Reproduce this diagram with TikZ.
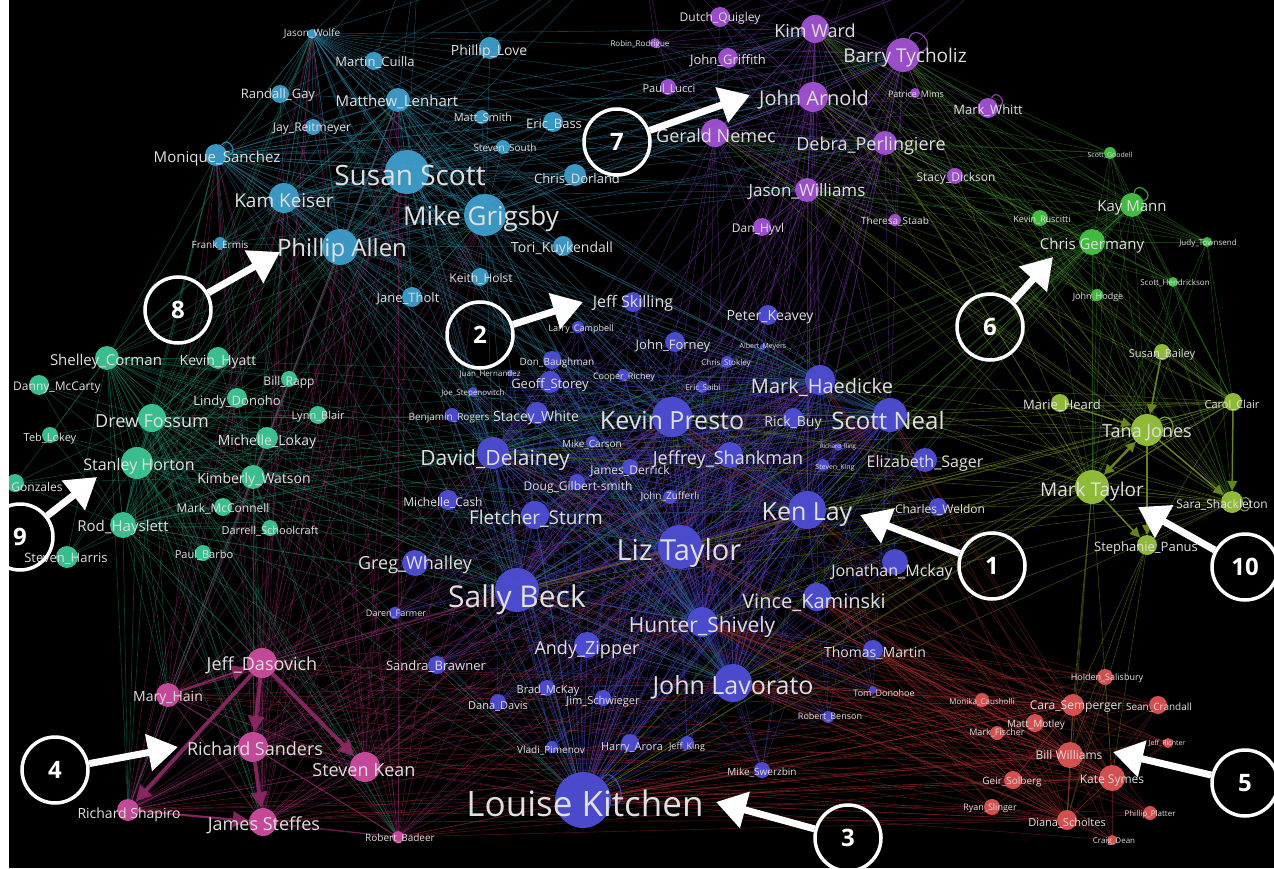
\documentclass[tikz,border=0pt]{standalone}
\usepackage{fontspec}
\setmainfont{Open Sans}
\usetikzlibrary{arrows.meta}
\pgfdeclarelayer{bgl}
\pgfdeclarelayer{edges}
\pgfdeclarelayer{top}
\pgfsetlayers{bgl,edges,main,top}
\definecolor{cC}{RGB}{62,158,204}
\definecolor{cP}{RGB}{163,82,212}
\definecolor{cB}{RGB}{78,78,214}
\definecolor{cT}{RGB}{62,200,150}
\definecolor{cG}{RGB}{68,196,68}
\definecolor{cY}{RGB}{150,196,60}
\definecolor{cK}{RGB}{206,76,160}
\definecolor{cR}{RGB}{222,84,84}
\definecolor{eC}{RGB}{40,120,150}
\definecolor{eP}{RGB}{110,50,160}
\definecolor{eB}{RGB}{60,60,175}
\definecolor{eT}{RGB}{30,130,100}
\definecolor{eG}{RGB}{50,130,40}
\definecolor{eY}{RGB}{110,140,30}
\definecolor{eK}{RGB}{140,40,100}
\definecolor{eR}{RGB}{150,40,40}
\tikzset{
  gdot/.style={circle, inner sep=0pt, draw=none, fill opacity=0.95},
  glab/.style={inner sep=0pt, text=white!88!black},
  ed/.style={line width=0.6pt, opacity=0.5},
  eCs/.style={ed, draw=eC}, ePs/.style={ed, draw=eP}, eBs/.style={ed, draw=eB},
  eTs/.style={ed, draw=eT}, eGs/.style={ed, draw=eG}, eYs/.style={ed, draw=eY},
  eKs/.style={ed, draw=eK}, eRs/.style={ed, draw=eR},
  annc/.style={circle, draw=white, line width=3.5pt, minimum size=66pt, inner sep=0pt,
    text=white, font=\fontsize{24}{24}\selectfont\bfseries},
  annar/.style={draw=white, line width=7pt, -{Triangle[length=30pt,width=36pt]}},
  thkK/.style={draw=eK, opacity=0.9, line width=4pt, -{Triangle[length=16pt,width=16pt]}},
  thkY/.style={draw=eY, opacity=0.9, line width=2.5pt, -{Triangle[length=10pt,width=10pt]}},
  loopy/.style={line width=1.2pt, opacity=0.8}
}
\def\ndata{%
jw/312/34/5/cC/10/312/34/Jason\_Wolfe,
mcu/374/61/9/cC/13/375/63/Martin\_Cuilla,
rg/280/94/9/cC/13/278/95/Randall\_Gay,
ml/398/100/12/cC/15/397/102/Matthew\_Lenhart,
jr/313/127/8/cC/12/312/129/Jay\_Reitmeyer,
ms/216/155/11/cC/15/217/159/Monique\_Sanchez,
ss/407/172/22/cC/28/410/175/Susan Scott,
kk/284/198/15/cC/19/284/201/Kam Keiser,
mg/485/215/21/cC/26/481/219/Mike Grigsby,
pa/340/247/18/cC/24/342/250/Phillip Allen,
fe/220/243/6/cC/10/220/245/Frank\_Ermis,
pl/490/48/11/cC/14/489/52/Phillip\_Love,
mts/482/117/7/cC/11/483/118/Matt\_Smith,
eb/553/122/10/cC/13/554/125/Eric\_Bass,
sso/503/147/7/cC/10/505/148/Steven\_South,
cd/575/175/11/cC/13/577/180/Chris\_Dorland,
tk/563/246/10/cC/14/562/249/Tori\_Kuykendall,
kh/480/277/9/cC/12/481/279/Keith\_Holst,
jt/412/297/10/cC/13/408/299/Jane\_Tholt,
dq/720/17/10/cP/12/720/18/Dutch\_Quigley,
kw/815/29/14/cP/18/815/31/Kim Ward,
rr/655/43/5/cP/8/640/44/Robin\_Rodrigue,
jg/728/58/10/cP/13/728/61/John\_Griffith,
bt/903/55/17/cP/19/905/58/Barry Tycholiz,
pcl/668/87/8/cP/11/669/89/Paul\_Lucci,
ja/813/97/15/cP/20/814/100/John Arnold,
pm/915/93/5/cP/9/916/95/Patrice\_Mims,
mw/988/108/10/cP/13/988/111/Mark\_Whitt,
gn/715/133/14/cP/18/716/136/Gerald Nemec,
dp/885/143/12/cP/18/871/146/Debra\_Perlingiere,
jwi/807/190/12/cP/17/807/192/Jason\_Williams,
sd/955/176/8/cP/12/956/178/Stacy\_Dickson,
dh/762/227/9/cP/12/758/229/Dan\_Hyvl,
ts/895/220/6/cP/10/895/221/Theresa\_Staab,
sgo/1110/153/6/cG/7/1110/155/Scott\_Goodell,
kym/1132/205/12/cG/15/1132/208/Kay Mann,
kr/1040/218/8/cG/9/1042/220/Kevin\_Ruscitti,
cg/1092/242/13/cG/15/1092/246/Chris Germany,
jto/1207/242/5/cG/8/1208/243/Judy\_Townsend,
sh2/1173/282/5/cG/8/1175/283/Scott\_Hendrickson,
jho/1097/295/6/cG/9/1098/297/John\_Hodge,
sba/1162/352/8/cY/11/1162/355/Susan\_Bailey,
mhe/1060/403/9/cY/13/1062/406/Marie\_Heard,
ccl/1233/402/9/cY/11/1232/405/Carol\_Clair,
tj/1147/430/16/cY/18/1147/433/Tana Jones,
mt/1092/487/17/cY/19/1092/492/Mark Taylor,
sas/1232/502/11/cY/12/1222/505/Sara\_Shackleton,
sp/1147/545/10/cY/13/1146/548/Stephanie\_Panus,
shc/107/358/12/cT/15/106/362/Shelley\_Corman,
kvh/218/358/11/cT/14/218/362/Kevin\_Hyatt,
dmc/39/385/10/cT/12/57/388/Danny\_McCarty,
brp/289/379/8/cT/12/289/382/Bill\_Rapp,
ldo/237/398/10/cT/13/237/402/Lindy\_Donoho,
df/152/418/14/cT/18/152/421/Drew Fossum,
tlo/50/435/8/cT/11/50/439/Teb\_Lokey,
lbl/318/415/9/cT/11/318/417/Lynn\_Blair,
mlo/267/438/11/cT/14/267/442/Michelle\_Lokay,
sho/137/463/16/cT/16/139/466/Stanley Horton,
kwa/253/477/12/cT/14/254/480/Kimberly\_Watson,
gon/15/483/9/cT/12/37/487/Gonzales,
mmc/223/507/9/cT/12/223/509/Mark\_McConnell,
rh/123/525/13/cT/15/123/528/Rod\_Hayslett,
dsc/270/528/8/cT/11/270/531/Darrell\_Schoolcraft,
sha/67/557/11/cT/13/66/559/Steven\_Harris,
pbo/203/553/8/cT/11/204/555/Paul\_Barbo,
jd/262/663/15/cK/18/262/665/Jeff\_Dasovich,
mh/168/695/12/cK/14/168/698/Mary\_Hain,
rs/253/747/15/cK/18/255/749/Richard Sanders,
sk/365/767/15/cK/18/364/770/Steven Kean,
rsh/128/810/11/cK/14/129/815/Richard Shapiro,
jst/263/822/14/cK/18/264/825/James Steffes,
rb/398/837/6/cK/10/400/838/Robert\_Badeer,
jsk/633/302/10/cB/16/633/303/Jeff Skilling,
lc/578/327/6/cB/9/581/329/Larry\_Campbell,
pk/768/315/10/cB/14/770/317/Peter\_Keavey,
jf/675/342/10/cB/13/673/346/John\_Forney,
ame/763/347/3/cB/7/763/347/Albert\_Meyers,
cst/727/362/6/cB/8/726/363/Chris\_Stokley,
db/552/360/9/cB/10/557/363/Don\_Baughman,
jhe/510/373/3/cB/8/490/374/Juan\_Hernandez,
cr/623/375/6/cB/9/624/377/Cooper\_Richey,
gs/550/382/11/cB/13/550/385/Geoff\_Storey,
jsp/473/392/5/cB/8/473/393/Joe\_Stepenovitch,
esa/702/387/6/cB/8/703/388/Eric\_Saibi,
mha/820/380/15/cB/20/822/387/Mark\_Haedicke,
bro/452/415/7/cB/10/449/418/Benjamin\_Rogers,
swh/537/413/11/cB/14/536/418/Stacey\_White,
kp/672/417/20/cB/25/672/420/Kevin Presto,
rbu/793/418/10/cB/14/793/423/Rick\_Buy,
sn/890/415/17/cB/24/888/420/Scott Neal,
rri/838/447/4/cB/6/838/447/Richard\_Ring,
mca/592/442/6/cB/10/592/444/Mike\_Carson,
dd/493/453/16/cB/21/495/460/David\_Delainey,
jsh/730/455/13/cB/18/728/460/Jeffrey\_Shankman,
ski/823/465/6/cB/7/835/468/Steven\_King,
esg/925/460/12/cB/16/925/463/Elizabeth\_Sager,
jde/630/467/8/cB/12/630/471/James\_Derrick,
dgs/577/482/8/cB/12/578/487/Doug\_Gilbert-smith,
jzu/670/497/7/cB/10/670/497/John\_Zufferli,
mcs/448/500/10/cB/12/443/503/Michelle\_Cash,
fs/535/515/14/cB/19/536/519/Fletcher\_Sturm,
kl/807/510/19/cB/25/807/515/Ken Lay,
cw/938/507/9/cB/12/940/510/Charles\_Weldon,
lt/680/547/22/cB/29/679/553/Liz Taylor,
jmc/895/562/13/cB/16/892/572/Jonathan\_Mckay,
gw/415/563/13/cB/18/415/565/Greg\_Whalley,
sbk/517/590/22/cB/30/517/600/Sally Beck,
vk/817/597/14/cB/20/814/602/Vince\_Kaminski,
hs/702/622/15/cB/21/702/627/Hunter\_Shively,
dfa/395/613/6/cB/9/396/614/Daren\_Farmer,
az/587/645/13/cB/18/587/650/Andy\_Zipper,
tm/873/650/10/cB/14/875/653/Thomas\_Martin,
sbr/437/665/9/cB/13/436/667/Sandra\_Brawner,
jl/733/683/19/cB/25/733/687/John Lavorato,
bmk/547/688/8/cB/11/548/691/Brad\_McKay,
dda/498/702/8/cB/11/498/706/Dana\_Davis,
jsc/603/698/8/cB/11/603/702/Jim\_Schwieger,
tdo/873/690/4/cB/9/884/694/Tom\_Donohoe,
rbe/828/717/6/cB/9/830/717/Robert\_Benson,
vpi/552/747/6/cB/10/551/750/Vladi\_Pimenov,
ha/630/743/9/cB/11/632/748/Harry\_Arora,
jki/687/743/7/cB/9/687/747/Jeff\_King,
msw/762/770/8/cB/10/762/772/Mike\_Swerzbin,
lk/583/800/28/cB/35/585/803/Louise Kitchen,
hsa/1105/677/8/cR/9/1107/678/Holden\_Salisbury,
mcau/982/700/7/cR/8/982/702/Monika\_Causholli,
cse/1073/705/11/cR/12/1076/707/Cara\_Semperger,
scr/1158/705/9/cR/10/1159/707/Sean\_Crandall,
mmo/1035/723/9/cR/10/1036/725/Matt\_Motley,
mfi/997/733/7/cR/9/997/733/Mark\_Fischer,
jri/1168/743/5/cR/7/1167/743/Jeff\_Richter,
bwi/1070/755/13/cR/12/1069/755/Bill Williams,
ksy/1112/778/13/cR/12/1112/781/Kate Symes,
gso/1013/780/9/cR/10/1012/782/Geir\_Solberg,
rsl/992/807/8/cR/9/990/808/Ryan\_Slinger,
ppl/1150/813/7/cR/8/1150/814/Phillip\_Platter,
dsh/1067/820/10/cR/11/1067/823/Diana\_Scholtes,
cde/1112/840/5/cR/8/1114/842/Craig\_Dean}
\def\Cl{jw,mcu,rg,ml,jr,ms,ss,kk,mg,pa,fe,pl,mts,eb,sso,cd,tk,kh,jt}
\def\Ch{ss,mg,pa,kk,ml,jw,ms}
\def\Pl{dq,kw,rr,jg,bt,pcl,ja,pm,mw,gn,dp,jwi,sd,dh,ts}
\def\Ph{kw,bt,ja,gn,jwi,dp}
\def\Gl{sgo,kym,kr,cg,jto,sh2,jho}
\def\Gh{kym,cg}
\def\Yl{sba,mhe,ccl,tj,mt,sas,sp}
\def\Yh{tj,mt,sas,ccl}
\def\Tl{shc,kvh,dmc,brp,ldo,df,tlo,lbl,mlo,sho,kwa,gon,mmc,rh,dsc,sha,pbo}
\def\Th{sho,df,rh,shc,kwa}
\def\Kl{jd,mh,rs,sk,rsh,jst,rb}
\def\Bl{jsk,lc,pk,jf,ame,cst,db,jhe,cr,gs,jsp,esa,mha,bro,swh,kp,rbu,sn,rri,mca,dd,jsh,ski,esg,jde,dgs,jzu,mcs,fs,kl,cw,lt,jmc,gw,sbk,vk,hs,dfa,az,tm,sbr,jl,bmk,dda,jsc,tdo,rbe,vpi,ha,jki,msw,lk}
\def\Bh{lk,sbk,lt,kp,kl,jl,sn,hs,dd,mha}
\def\Rl{hsa,mcau,cse,scr,mmo,mfi,jri,bwi,ksy,gso,rsl,ppl,dsh,cde}
\def\Rh{bwi,ksy,cse,dsh}
\newcommand\linkall[3]{\foreach \ea in #1 {\foreach \eb in #2 {\ifx\ea\eb\else\draw[#3] (\ea) -- (\eb);\fi}}}
\begin{document}
\begin{tikzpicture}[x=1pt,y=-1pt]
\useasboundingbox (0,0) rectangle (1274,869);
\begin{pgfonlayer}{bgl}
\fill[white] (0,0) rectangle (1274,869);
\fill[black] (9,0) rectangle (1274,868);
\end{pgfonlayer}
\begin{scope}
\clip (9,0) rectangle (1274,868);
\foreach \nm/\px/\py/\rr/\cc/\sz/\lx/\ly/\tx in \ndata {
  \node[gdot, fill=\cc, minimum size=2*\rr pt] (\nm) at (\px,\py) {};
}
\coordinate (o1) at (420,-70);
\coordinate (o2) at (640,-70);
\coordinate (o3) at (860,-60);
\coordinate (o4) at (1020,-50);
\end{scope}
\begin{pgfonlayer}{edges}
\begin{scope}
\clip (9,0) rectangle (1274,868);
\linkall{\Cl}{\Ch}{eCs}
\linkall{\Pl}{\Ph}{ePs}
\linkall{\Gl}{\Gh}{eGs}
\linkall{\Yl}{\Yh}{eYs}
\linkall{\Tl}{\Th}{eTs}
\linkall{\Kl}{\Kl}{eKs}
\linkall{\Bl}{\Bh}{eBs}
\linkall{\Rl}{\Rh}{eRs}
\linkall{\Ch}{\Bh}{eCs}
\linkall{\Ch}{\Ph}{eCs}
\linkall{\Ph}{\Bh}{ePs}
\linkall{\Kl}{\Bh}{eKs}
\linkall{\Kl}{\Ch}{eKs}
\linkall{\Th}{\Bh}{eTs}
\linkall{\Th}{\Ch}{eTs}
\linkall{\Th}{\Kl}{eTs}
\linkall{\Gl}{\Ph}{eGs}
\linkall{\Gh}{\Bh}{eGs}
\linkall{\Gl}{\Yh}{eGs}
\linkall{\Yh}{\Bh}{eYs}
\linkall{\Yh}{\Ph}{eYs}
\linkall{{sp,mt}}{\Rh}{eYs}
\linkall{\Rh}{\Bh}{eRs}
\linkall{\Rl}{{lk,jl,hs,vk,tm}}{eRs}
\linkall{\Rh}{\Kl}{eRs}
\linkall{{jw,mcu,pl,ml,ss,rg}}{{o1,o2}}{eCs}
\linkall{{dq,kw,rr,jg,bt,ja,pcl}}{{o2,o3,o4}}{ePs}
\draw[thkK] (jd) -- (rs);
\draw[thkK] (jd) -- (rsh);
\draw[thkK] (jd) -- (sk);
\draw[thkK] (rs) -- (jst);
\draw[thkK, line width=2pt] (mh) -- (jd);
\draw[thkK, line width=2pt] (rsh) -- (jst);
\draw[thkY, {Triangle[length=10pt,width=10pt]}-{Triangle[length=10pt,width=10pt]}] (mt) -- (tj);
\draw[thkY, line width=1.5pt] (ccl) -- (sas);
\draw[thkY, line width=1.5pt] (tj) -- (sas);
\draw[thkY, line width=1.5pt] (mt) -- (sp);
\draw[thkY, line width=1.5pt] (tj) -- (sp);
\draw[thkY, line width=1.5pt] (sba) -- (tj);
\draw[thkY, line width=1.5pt] (mhe) -- (tj);
\end{scope}
\end{pgfonlayer}
\begin{scope}
\clip (9,0) rectangle (1274,868);
\draw[loopy, draw=cP] (bt.70) to[out=70,in=10,looseness=3] (bt.10);
\draw[loopy, draw=cP] (mw.70) to[out=70,in=10,looseness=3] (mw.10);
\draw[loopy, draw=cG] (kym.80) to[out=80,in=20,looseness=3] (kym.20);
\draw[loopy, draw=cC] (ms.60) to[out=60,in=0,looseness=3] (ms.0);
\draw[loopy, draw=cB] (lk.50) to[out=50,in=-10,looseness=2] (lk.-10);
\draw[loopy, draw=cY] (tj.40) to[out=40,in=-20,looseness=3] (tj.-20);
\draw[loopy, draw=cY] (sas.20) to[out=20,in=-40,looseness=3] (sas.-40);
\end{scope}
\begin{pgfonlayer}{top}
\begin{scope}
\clip (9,0) rectangle (1274,868);
\foreach \nm/\px/\py/\rr/\cc/\sz/\lx/\ly/\tx in \ndata {
  \node[glab, font=\fontsize{\sz}{\sz}\selectfont] (\nm-t) at (\lx,\ly) {\tx};
}
\node[annc] (a1) at (992,566) {1};
\node[annc] (a2) at (480,335) {2};
\node[annc] (a3) at (848,838) {3};
\node[annc] (a4) at (55,770) {4};
\node[annc] (a5) at (1245,783) {5};
\node[annc] (a6) at (990,327) {6};
\node[annc] (a7) at (617,142) {7};
\node[annc] (a8) at (178,310) {8};
\node[annc] (a9) at (20,537) {9};
\node[annc] (a10) at (1245,567) {10};
\coordinate (t1) at (860,515);
\coordinate (t2) at (583,302);
\coordinate (t3) at (716,802);
\coordinate (t4) at (178,747);
\coordinate (t5) at (1113,752);
\coordinate (t6) at (1053,257);
\coordinate (t7) at (750,95);
\coordinate (t8) at (280,252);
\coordinate (t9) at (97,477);
\coordinate (t10) at (1138,507);
\foreach \i in {1,...,10} {\draw[annar] (a\i) -- (t\i);}
\end{scope}
\end{pgfonlayer}
\end{tikzpicture}
\end{document}
